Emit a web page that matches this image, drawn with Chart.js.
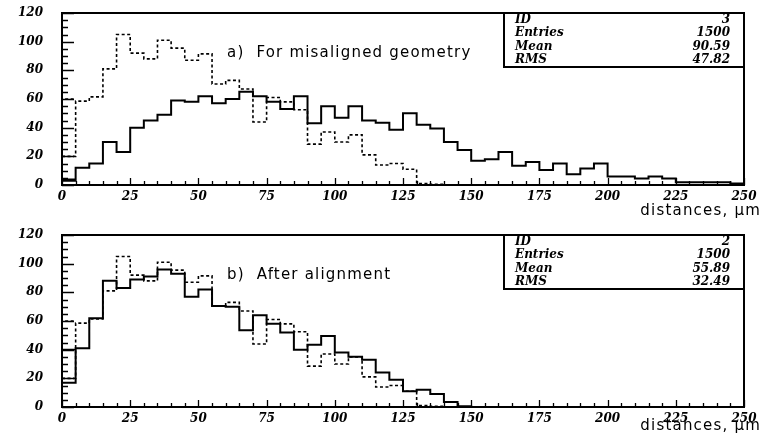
<!DOCTYPE html>
<html>
<head>
<meta charset="utf-8">
<script src="https://cdn.jsdelivr.net/npm/chart.js@4.4.1/dist/chart.umd.min.js"></script>
<style>
  html, body { margin: 0; padding: 0; background: #fff; }
  body { width: 761px; height: 433px; position: relative; overflow: hidden; }
  .panel { position: absolute; left: 0; width: 761px; }
  #top { top: 0; height: 222px; }
  #bottom { top: 222px; height: 211px; }
</style>
</head>
<body>
<div class="panel" id="top"><canvas id="chartA"></canvas></div>
<div class="panel" id="bottom"><canvas id="chartB"></canvas></div>
<script>
// histogram bins are 5 um wide, 0..250
const binWidth = 5;
const xTickLabels = [0, 25, 50, 75, 100, 125, 150, 175, 200, 225, 250];
const yTickLabels = [0, 20, 40, 60, 80, 100, 120];

// dashed reference distribution (same in both panels)
const referenceCounts = [20, 58.5, 61.5, 81, 105, 92, 88, 101, 95.5, 87,
  91.5, 70.5, 73, 67, 44, 61, 58, 52.5, 28.5, 37,
  30, 35, 21, 14, 15, 11, 1, 0.5, 0, 0,
  0, 0, 0, 0, 0, 0, 0, 0, 0, 0,
  0, 0, 0, 0, 0, 0, 0, 0, 0, 0];

// a) misaligned geometry, ID 3
const misalignedCounts = [3, 12, 15, 30, 23, 40, 45, 49, 59, 58,
  62, 57, 60, 65, 62, 58, 53, 62, 43, 55,
  47, 55, 45, 43.5, 38.5, 50, 42, 39.5, 30, 24.5,
  17, 18, 23, 13.5, 16, 10.5, 15, 7.5, 11.5, 15,
  6, 6, 4.5, 6, 4.5, 2, 2, 2, 2, 1];

// b) after alignment, ID 2
const alignedCounts = [17, 41, 62, 88, 83, 89, 91, 96, 93, 77,
  82, 70.5, 70, 53.5, 64, 58, 52, 40, 43.5, 49.5,
  38, 35, 33, 24, 19, 11, 12, 9, 3.5, 0.5,
  0, 0, 0, 0, 0, 0, 0, 0, 0, 0,
  0, 0, 0, 0, 0, 0, 0, 0, 0, 0];

// upper edge of the little box drawn in the first bin
const referenceFirstTop = 60;
const misalignedFirstTop = 4;
const alignedFirstTop = 40;

const statNames = ["ID", "Entries", "Mean", "RMS"];
const statsA = ["3", "1500", "90.59", "47.82"];
const statsB = ["2", "1500", "55.89", "32.49"];

function histPoints(counts) {
  const pts = counts.map((c, i) => ({ x: i * binWidth, y: c }));
  pts.push({ x: counts.length * binWidth, y: counts[counts.length - 1] });
  return pts;
}

function firstBox(counts, top) {
  return [{ x: 0, y: counts[0] }, { x: 0, y: top }, { x: binWidth, y: top }];
}

function datasets(counts, firstTop) {
  const dash = [3, 2.5];
  return [
    { data: histPoints(referenceCounts), stepped: "before", borderColor: "#000", borderWidth: 1.6, borderDash: dash, pointRadius: 0 },
    { data: firstBox(referenceCounts, referenceFirstTop), borderColor: "#000", borderWidth: 1.6, borderDash: dash, pointRadius: 0 },
    { data: histPoints(counts), stepped: "before", borderColor: "#000", borderWidth: 2, pointRadius: 0 },
    { data: firstBox(counts, firstTop), borderColor: "#000", borderWidth: 1.6, pointRadius: 0 }
  ];
}

const tickFont = { family: "DejaVu Serif", style: "italic", weight: "bold", size: 12 };

// frame, inward ticks, stats box and texts
const pawDeco = {
  id: "pawDeco",
  afterDatasetsDraw(chart, args, opts) {
    const { ctx, chartArea: a, scales: { x, y } } = chart;
    ctx.save();
    ctx.strokeStyle = "#000";
    ctx.fillStyle = "#000";
    ctx.lineWidth = 1.3;
    ctx.beginPath();
    for (let v = 0; v <= 250; v += binWidth) {
      const px = Math.round(x.getPixelForValue(v)) + 0.5;
      const len = v % 25 === 0 ? 7 : 4;
      ctx.moveTo(px, a.bottom);
      ctx.lineTo(px, a.bottom - len);
    }
    for (let v = 0; v <= 120; v += 5) {
      const py = Math.round(y.getPixelForValue(v)) + 0.5;
      const len = v % 20 === 0 ? 12 : 6;
      ctx.moveTo(a.left, py);
      ctx.lineTo(a.left + len, py);
    }
    ctx.stroke();

    ctx.lineWidth = 2;
    ctx.strokeRect(a.left, a.top, a.width, a.height);

    // statistics box
    const bx = a.right - 240, bh = 54;
    ctx.fillStyle = "#fff";
    ctx.fillRect(bx, a.top, 240, bh);
    ctx.fillStyle = "#000";
    ctx.strokeRect(bx, a.top, 240, bh);
    ctx.font = "italic bold 12px 'DejaVu Serif'";
    ctx.textBaseline = "middle";
    statNames.forEach((n, i) => {
      const ty = a.top + 7 + i * 13.3;
      ctx.textAlign = "left";
      ctx.fillText(n, bx + 11, ty);
      ctx.textAlign = "right";
      ctx.fillText(opts.stats[i], a.right - 14, ty);
    });

    // panel title
    ctx.font = "15px 'DejaVu Sans'";
    ctx.letterSpacing = "1.2px";
    ctx.textAlign = "left";
    ctx.fillText(opts.title, a.left + 165, a.top + 40);

    // axis title
    ctx.textAlign = "right";
    ctx.fillText("distances, \u00b5m", 761, opts.unitY);
    ctx.restore();
  }
};

function makeChart(id, counts, firstTop, stats, title, axisHeight, unitY) {
  return new Chart(document.getElementById(id), {
    type: "line",
    data: { datasets: datasets(counts, firstTop) },
    plugins: [pawDeco],
    options: {
      responsive: true,
      maintainAspectRatio: false,
      animation: false,
      layout: { padding: { top: 13, right: 17, left: 0, bottom: 0 } },
      plugins: {
        legend: { display: false },
        tooltip: { enabled: false },
        pawDeco: { stats: stats, title: title, unitY: unitY }
      },
      scales: {
        x: {
          type: "linear",
          min: 0,
          max: 250,
          afterBuildTicks: s => { s.ticks = xTickLabels.map(v => ({ value: v })); },
          afterFit: s => { s.height = axisHeight; },
          grid: { display: false, drawTicks: true, tickLength: 5 },
          border: { display: false },
          ticks: { font: tickFont, color: "#000", padding: 0, maxRotation: 0, autoSkip: false }
        },
        y: {
          min: 0,
          max: 120,
          afterBuildTicks: s => { s.ticks = yTickLabels.map(v => ({ value: v })); },
          afterFit: s => { s.width = 62; },
          grid: { display: false, drawTicks: true, tickLength: 19 },
          border: { display: false },
          ticks: { font: tickFont, color: "#000", padding: 0 }
        }
      }
    }
  });
}

makeChart("chartA", misalignedCounts, misalignedFirstTop, statsA, "a)  For misaligned geometry", 37, 211);
makeChart("chartB", alignedCounts, alignedFirstTop, statsB, "b)  After alignment", 26, 204);
</script>
</body>
</html>
